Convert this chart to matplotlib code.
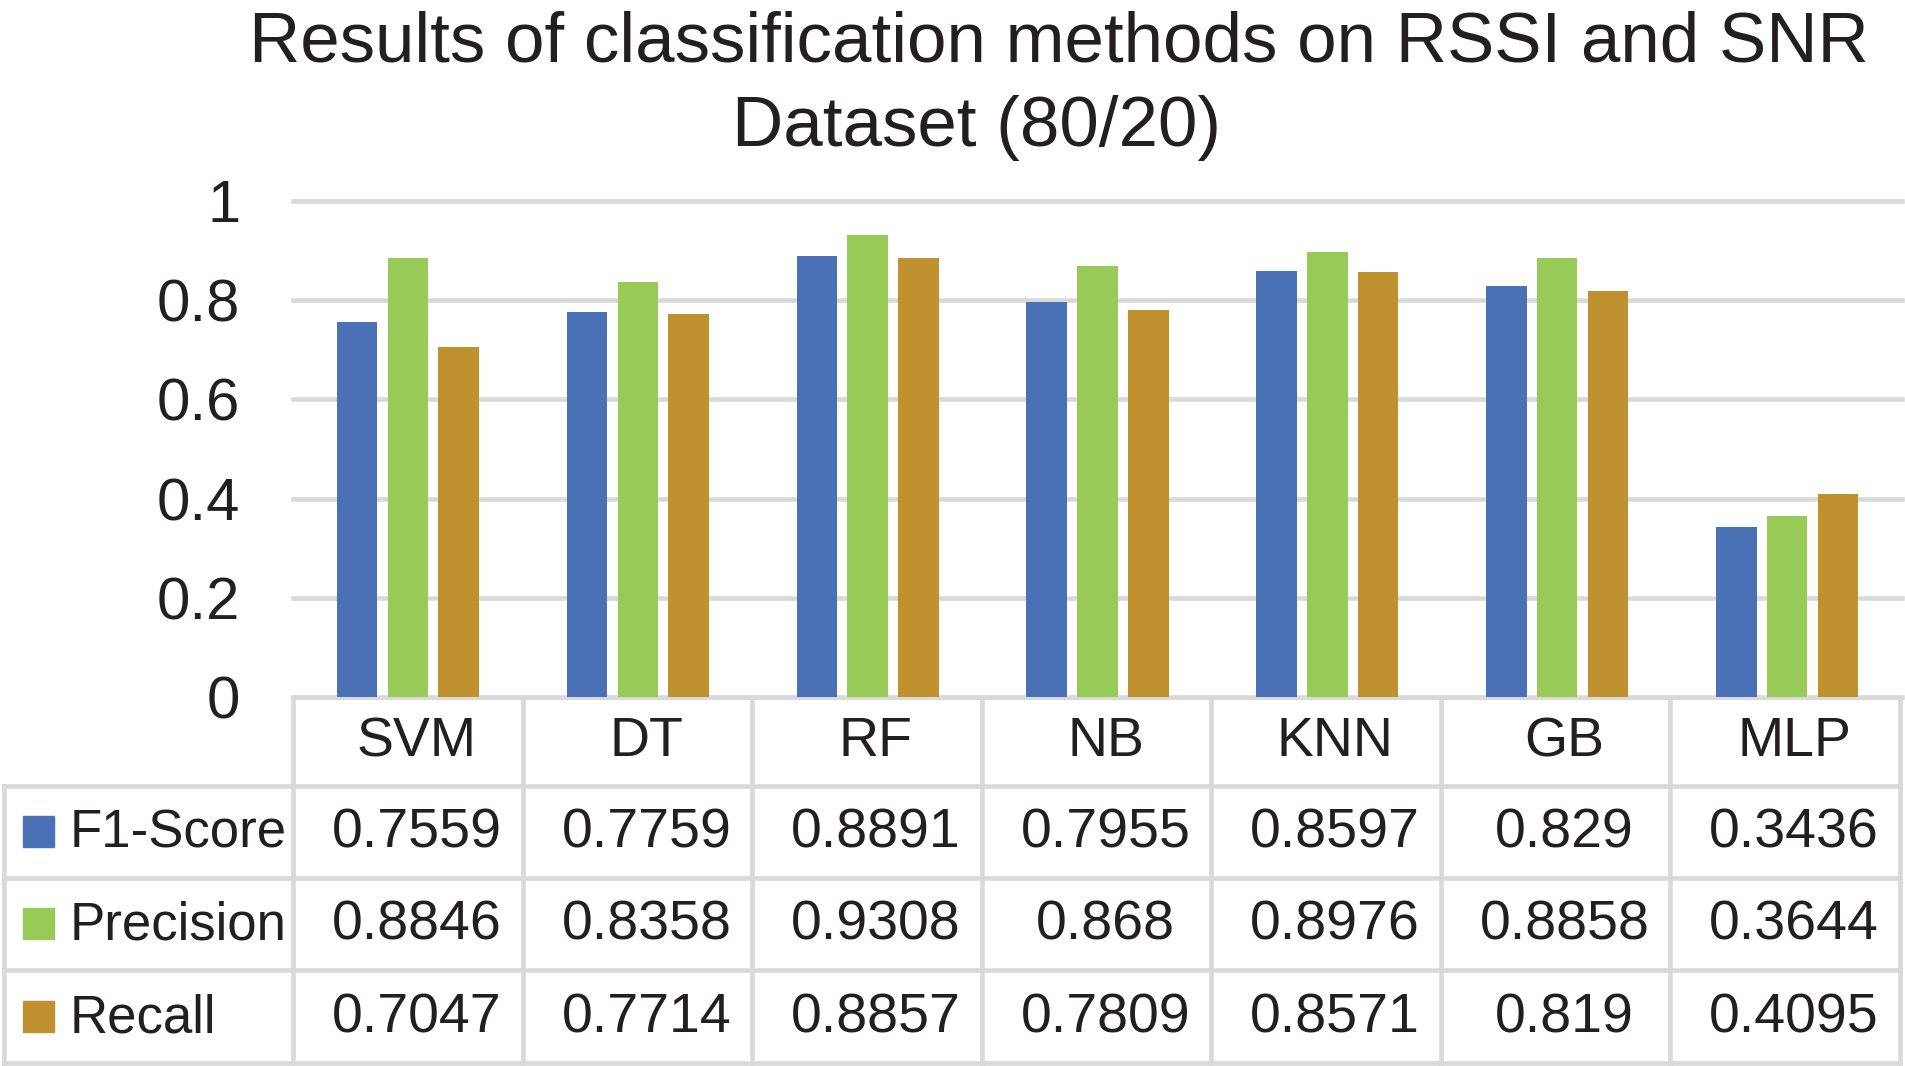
import numpy as np
import matplotlib.pyplot as plt
from matplotlib.patches import Rectangle

plt.rcParams['font.family'] = ['Liberation Sans', 'DejaVu Sans']

# Data
methods = ['SVM', 'DT', 'RF', 'NB', 'KNN', 'GB', 'MLP']
series_names = ['F1-Score', 'Precision', 'Recall']
f1_score = [0.7559, 0.7759, 0.8891, 0.7955, 0.8597, 0.829, 0.3436]
precision = [0.8846, 0.8358, 0.9308, 0.868, 0.8976, 0.8858, 0.3644]
recall = [0.7047, 0.7714, 0.8857, 0.7809, 0.8571, 0.819, 0.4095]
y_ticks = [0, 0.2, 0.4, 0.6, 0.8, 1]
title_lines = ['Results of classification methods on RSSI and SNR', 'Dataset (80/20)']

series = [f1_score, precision, recall]
colors = ['#4A71B6', '#97CA56', '#BF922F']
grid_color = '#D9D9D9'
text_color = '#231F20'

# Layout in pixels
W, H = 1905, 1066
plot_left, plot_right = 293, 1902
table_right = 1900
table_left = 4
y_top, y_zero = 201, 697
row_edges = [697, 786, 878, 970, 1063]
line_w = 3.3

fig = plt.figure(figsize=(W / 100, H / 100), dpi=100)

# Bar chart
ax = fig.add_axes([plot_left / W, 1 - y_zero / H,
                   (plot_right - plot_left) / W, (y_zero - y_top) / H])
x = np.arange(len(methods))
bar_w = 0.176
step = 0.221
for i, (vals, c) in enumerate(zip(series, colors)):
    ax.bar(x + (i - 1) * step, vals, width=bar_w, color=c, zorder=3)

ax.set_xlim(-0.5, len(methods) - 0.5)
ax.set_ylim(0, 1)
ax.set_yticks(y_ticks)
ax.set_yticklabels([f'{t:g}' for t in y_ticks])
ax.set_xticks([])
ax.tick_params(axis='y', length=0, pad=38, labelsize=43, labelcolor=text_color)
ax.yaxis.grid(True, color=grid_color, linewidth=line_w)
for gl in ax.get_ygridlines():
    gl.set_clip_on(False)
ax.set_axisbelow(True)
for s in ax.spines.values():
    s.set_visible(False)

# Data table drawn in pixel coordinates
tab = fig.add_axes([0, 0, 1, 1], zorder=-1)
tab.set_xlim(0, W)
tab.set_ylim(H, 0)
tab.axis('off')
tab.patch.set_alpha(0)

col_w = (table_right - plot_left) / len(methods)
col_x = [plot_left + k * col_w for k in range(len(methods) + 1)]

tab.plot([plot_left, table_right], [row_edges[0]] * 2, color=grid_color, lw=line_w)
for ye in row_edges[1:]:
    tab.plot([table_left, table_right], [ye, ye], color=grid_color, lw=line_w)
tab.plot([table_left, table_left], [row_edges[1], row_edges[-1]], color=grid_color, lw=line_w)
for xc in col_x:
    tab.plot([xc, xc], [row_edges[0], row_edges[-1]], color=grid_color, lw=line_w)

hdr_y = (row_edges[0] + row_edges[1]) / 2
for k, m in enumerate(methods):
    tab.text(col_x[k] + col_w / 2 + 9, hdr_y + 1, m, ha='center', va='center',
             fontsize=40, color=text_color)

for r, (name, vals, c) in enumerate(zip(series_names, series, colors)):
    yc = (row_edges[r + 1] + row_edges[r + 2]) / 2
    tab.add_patch(Rectangle((23, yc - 16), 31, 31, color=c))
    tab.text(70, yc + 2, name, ha='left', va='center', fontsize=38, color=text_color)
    for k, v in enumerate(vals):
        tab.text(col_x[k] + col_w / 2 + 9, yc + 2, f'{v:g}', ha='center', va='center',
                 fontsize=40, color=text_color)

# Title (second line sits left of the first line's centre, as in the source)
title_x = [1059, 976]
for j, line in enumerate(title_lines):
    fig.text(title_x[j] / W, 1 - (61 + 85 * j) / H, line, ha='center', va='baseline',
             fontsize=51, color=text_color)

fig.savefig('out.png', dpi=100)
